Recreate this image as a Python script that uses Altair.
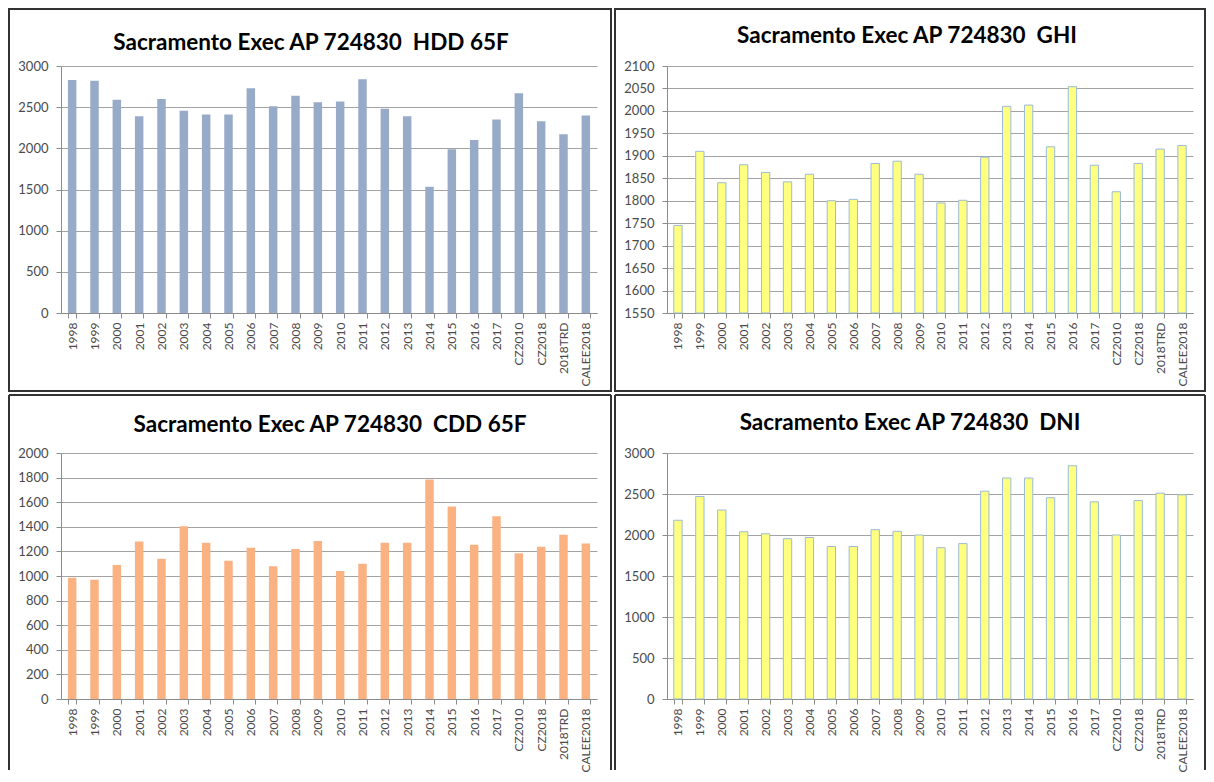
import altair as alt
import pandas as pd

categories = ["1998", "1999", "2000", "2001", "2002", "2003", "2004", "2005",
              "2006", "2007", "2008", "2009", "2010", "2011", "2012", "2013",
              "2014", "2015", "2016", "2017", "CZ2010", "CZ2018", "2018TRD", "CALEE2018"]

hdd = [2830, 2820, 2590, 2390, 2600, 2455, 2410, 2410, 2730, 2510, 2640, 2560,
       2570, 2840, 2480, 2390, 1534, 1990, 2100, 2350, 2670, 2330, 2170, 2400]
ghi = [1745, 1910, 1840, 1880, 1863, 1842, 1859, 1800, 1803, 1883, 1888, 1859,
       1795, 1801, 1897, 2010, 2013, 1920, 2054, 1879, 1820, 1883, 1915, 1923]
cdd = [985, 970, 1090, 1280, 1140, 1405, 1270, 1125, 1230, 1080, 1220, 1285,
       1040, 1100, 1270, 1270, 1785, 1565, 1255, 1485, 1185, 1238, 1335, 1265]
dni = [2180, 2470, 2305, 2040, 2015, 1955, 1970, 1860, 1860, 2065, 2045, 2000,
       1845, 1895, 2535, 2695, 2695, 2455, 2845, 2405, 2000, 2420, 2510, 2490]

hdd_ticks = [0, 500, 1000, 1500, 2000, 2500, 3000]
ghi_ticks = [1550, 1600, 1650, 1700, 1750, 1800, 1850, 1900, 1950, 2000, 2050, 2100]
cdd_ticks = [0, 200, 400, 600, 800, 1000, 1200, 1400, 1600, 1800, 2000]
dni_ticks = [0, 500, 1000, 1500, 2000, 2500, 3000]

titles = ["Sacramento Exec AP 724830 \u00a0HDD 65F",
          "Sacramento Exec AP 724830 \u00a0GHI",
          "Sacramento Exec AP 724830 \u00a0CDD 65F",
          "Sacramento Exec AP 724830 \u00a0DNI"]

FONT = "Lato"
LABEL_COLOR = "#4a4a4a"
FRAME_COLOR = "#333333"


def panel(values, ticks, title, color, stroke, W, H, L, R, T, B, dx, toff, open_bottom):
    df = pd.DataFrame({"cat": categories, "val": values})
    bars = alt.Chart(df).mark_bar(
        color=color, stroke=stroke, strokeWidth=1 if stroke else 0
    ).encode(
        x=alt.X("cat:N", sort=categories,
                scale=alt.Scale(paddingInner=0.62, paddingOuter=0.31),
                axis=alt.Axis(title=None, labelAngle=-90, labelAlign="right",
                              labelBaseline="middle", labelPadding=4,
                              tickBand="extent", tickSize=5, tickColor="#8c8c8c",
                              domainColor="#8c8c8c", labelColor=LABEL_COLOR,
                              labelFont=FONT, labelFontSize=12, grid=False)),
        y=alt.Y("val:Q",
                scale=alt.Scale(domain=[ticks[0], ticks[-1]], zero=False, nice=False),
                axis=alt.Axis(title=None, values=ticks, format="d", tickSize=5,
                              tickColor="#8c8c8c", domainColor="#8c8c8c",
                              gridColor="#a3a3a3", labelColor=LABEL_COLOR,
                              labelFont=FONT, labelFontSize=13, labelPadding=8)),
        y2=alt.datum(ticks[0]),
    )
    frame_data = alt.Data(values=[{"f": 1}])
    if open_bottom:
        frame = alt.layer(
            alt.Chart(frame_data).mark_rule(color=FRAME_COLOR, strokeWidth=2).encode(
                x=alt.value(L), y=alt.value(T), y2=alt.value(B)),
            alt.Chart(frame_data).mark_rule(color=FRAME_COLOR, strokeWidth=2).encode(
                x=alt.value(R), y=alt.value(T), y2=alt.value(B)),
            alt.Chart(frame_data).mark_rule(color=FRAME_COLOR, strokeWidth=2).encode(
                x=alt.value(L), x2=alt.value(R), y=alt.value(T)),
        )
    else:
        frame = alt.Chart(frame_data).mark_rect(
            filled=False, stroke=FRAME_COLOR, strokeWidth=2
        ).encode(x=alt.value(L), x2=alt.value(R), y=alt.value(T), y2=alt.value(B))
    return alt.layer(frame, bars).properties(
        width=W, height=H,
        title=alt.TitleParams(title, font=FONT, fontSize=22.5, fontWeight="bold",
                              color="black", anchor="middle", dx=dx, offset=toff),
    )


p1 = panel(hdd, hdd_ticks, titles[0], "#97abc8", None,
           536, 247, -52, 536 + 14, -57, 247 + 78, -18, -46, False)
p2 = panel(ghi, ghi_ticks, titles[1], "#ffff80", "#9bbbd9",
           526, 247, -52, 526 + 12, -57, 247 + 78, -23, -39, False)
p3 = panel(cdd, cdd_ticks, titles[2], "#fbb283", None,
           536, 246, -52, 536 + 14, -58, 246 + 71, 1, -42, True)
p4 = panel(dni, dni_ticks, titles[3], "#ffff80", "#9bbbd9",
           526, 246, -52, 526 + 12, -58, 246 + 71, -20, -40, True)

chart = alt.vconcat(
    alt.hconcat(p1, p2, spacing=2),
    alt.hconcat(p3, p4, spacing=2),
    spacing=2,
).properties(
    padding={"left": 0, "top": 0, "right": 0, "bottom": 0},
    background="white",
).configure_view(stroke=None)

chart.save("out.html", embed_options={"renderer": "svg", "actions": False})
